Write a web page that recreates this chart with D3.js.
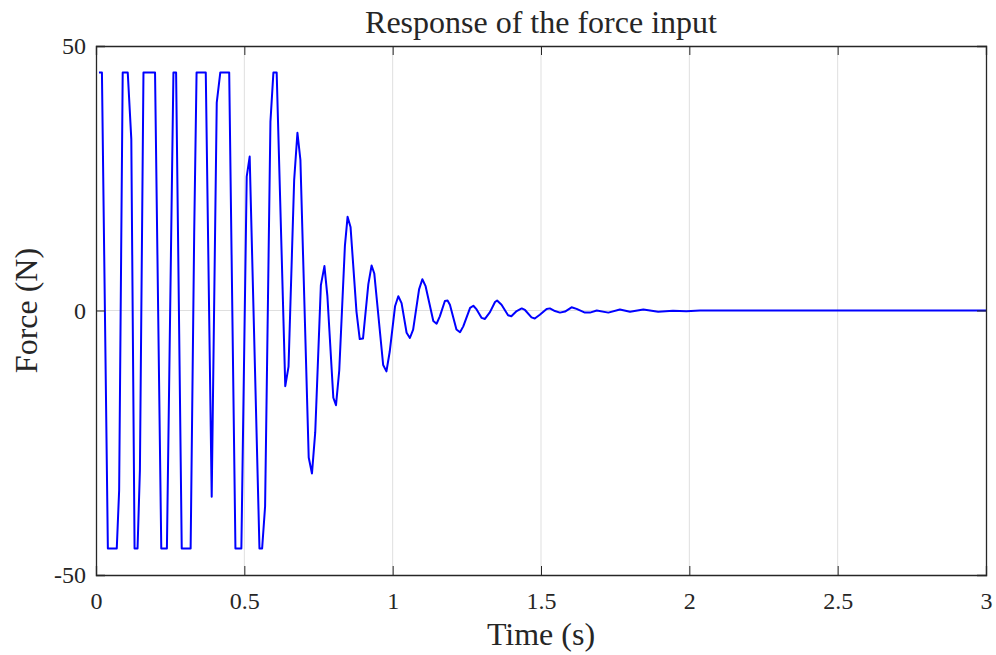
<!DOCTYPE html>
<html>
<head>
<meta charset="utf-8">
<script src="https://cdn.jsdelivr.net/npm/d3@7"></script>
<style>
  body { margin: 0; background: #fff; }
  svg text { font-family: "Liberation Serif", "Times New Roman", serif; fill: #262626; }
</style>
</head>
<body>
<div id="chart"></div>
<script>
const timeS = [
  0.01, 0.02, 0.04, 0.07, 0.078, 0.09, 0.107, 0.119, 0.13, 0.14, 0.148, 0.16, 0.199,
  0.22, 0.239, 0.261, 0.27, 0.289, 0.319, 0.331, 0.339, 0.37, 0.39, 0.407, 0.419,
  0.449, 0.47, 0.49, 0.508, 0.518, 0.551, 0.56, 0.57, 0.588, 0.598, 0.609, 0.638,
  0.649, 0.668, 0.679, 0.689, 0.717, 0.728, 0.739, 0.758, 0.77, 0.78, 0.8, 0.809,
  0.82, 0.839, 0.848, 0.858, 0.878, 0.889, 0.9, 0.918, 0.929, 0.938, 0.968, 0.979,
  0.99, 1.008, 1.019, 1.03, 1.047, 1.058, 1.069, 1.089, 1.1, 1.111, 1.137, 1.148,
  1.159, 1.176, 1.185, 1.193, 1.215, 1.227, 1.238, 1.261, 1.272, 1.283, 1.3, 1.311,
  1.328, 1.345, 1.352, 1.367, 1.389, 1.4, 1.418, 1.435, 1.446, 1.468, 1.479, 1.496,
  1.519, 1.53, 1.547, 1.564, 1.581, 1.603, 1.62, 1.648, 1.665, 1.688, 1.727, 1.766,
  1.8, 1.845, 1.895, 1.945, 1.99, 2.036, 2.5, 3.0
];
const forceN = [
  45, 45, -45, -45, -34, 45, 45, 32.4, -45, -45, -30.2, 45, 45,
  -45, -45, 45, 45, -45, -45, 14.7, 45, 45, -35.2, 39.3, 45,
  45, -45, -45, 25.3, 29.1, -45, -45, -37, 35.7, 45, 45, -14.3,
  -10.6, 24.7, 33.6, 28.5, -27.8, -30.8, -23, 4.8, 8.4, 2.7, -16.5, -17.9,
  -11.3, 12.2, 17.7, 15.8, -0.2, -5.4, -5.3, 5.0, 8.5, 7.0, -10.3, -11.5,
  -7.8, 0.8, 2.7, 1.4, -4.2, -5.2, -3.6, 4.0, 5.9, 4.6, -2.0, -2.5,
  -1.1, 1.8, 1.9, 1.1, -3.6, -4.1, -3.0, 0.5, 0.9, 0.2, -1.4, -1.6,
  -0.3, 1.6, 1.9, 1.1, -0.9, -1.1, -0.1, 0.4, 0.1, -1.3, -1.5, -0.8,
  0.3, 0.4, -0.1, -0.4, -0.2, 0.6, 0.3, -0.4, -0.4, 0, -0.4, 0.2,
  -0.25, 0.2, -0.25, -0.05, -0.15, 0, 0, 0
];
const xTicks = [0, 0.5, 1, 1.5, 2, 2.5, 3];
const yTicks = [-50, 0, 50];
const xTickLabels = ["0", "0.5", "1", "1.5", "2", "2.5", "3"];
const yTickLabels = ["-50", "0", "50"];

const W = 996, H = 655;
const margin = {top: 46, right: 10, bottom: 80, left: 96};
const width = W - margin.left - margin.right;
const height = H - margin.top - margin.bottom;
const axisColor = "#262626";
const tickLen = 9;

const svg = d3.select("#chart").append("svg")
    .attr("width", W)
    .attr("height", H);

const g = svg.append("g")
    .attr("transform", `translate(${margin.left},${margin.top})`);

const x = d3.scaleLinear().domain([0, 3]).range([0, width]);
const y = d3.scaleLinear().domain([-50, 50]).range([height, 0]);

// grid lines
g.append("g").selectAll("line.gx")
    .data(xTicks.slice(1, -1))
    .join("line")
    .attr("x1", d => x(d)).attr("x2", d => x(d))
    .attr("y1", 0).attr("y2", height)
    .attr("stroke", "#dfdfdf").attr("stroke-width", 1);

g.append("g").selectAll("line.gy")
    .data(yTicks.slice(1, -1))
    .join("line")
    .attr("x1", 0).attr("x2", width)
    .attr("y1", d => y(d)).attr("y2", d => y(d))
    .attr("stroke", "#dfdfdf").attr("stroke-width", 1);

// data line
const pts = timeS.map((t, i) => [t, forceN[i]]);
g.append("clipPath").attr("id", "clip")
    .append("rect").attr("width", width).attr("height", height);

g.append("path")
    .datum(pts)
    .attr("clip-path", "url(#clip)")
    .attr("fill", "none")
    .attr("stroke", "#0000ff")
    .attr("stroke-width", 2)
    .attr("stroke-linejoin", "round")
    .attr("d", d3.line().x(d => x(d[0])).y(d => y(d[1])));

// axes (ticks pointing inward)
const xAxis = g.append("g")
    .attr("transform", `translate(0,${height})`)
    .call(d3.axisBottom(x).tickValues(xTicks)
        .tickSize(-tickLen).tickPadding(17)
        .tickFormat((d, i) => xTickLabels[i]));

const yAxis = g.append("g")
    .call(d3.axisLeft(y).tickValues(yTicks)
        .tickSize(-tickLen).tickPadding(10)
        .tickFormat((d, i) => yTickLabels[i]));

const xTop = g.append("g")
    .call(d3.axisTop(x).tickValues(xTicks).tickSize(-tickLen).tickFormat(""));
const yRight = g.append("g")
    .attr("transform", `translate(${width},0)`)
    .call(d3.axisRight(y).tickValues(yTicks).tickSize(-tickLen).tickFormat(""));

[xAxis, yAxis, xTop, yRight].forEach(a => {
    a.select(".domain").attr("stroke", axisColor).attr("stroke-width", 1.3);
    a.selectAll(".tick line").attr("stroke", axisColor).attr("stroke-width", 1);
    a.selectAll(".tick text").attr("fill", axisColor).style("font-size", "24px")
        .style("font-family", "'Liberation Serif', serif");
});

// title and axis labels
svg.append("text")
    .attr("x", margin.left + width / 2)
    .attr("y", 33)
    .attr("text-anchor", "middle")
    .style("font-size", "32px")
    .text("Response of the force input");

svg.append("text")
    .attr("x", margin.left + width / 2)
    .attr("y", 645)
    .attr("text-anchor", "middle")
    .style("font-size", "32px")
    .text("Time (s)");

svg.append("text")
    .attr("transform", `translate(37,${margin.top + height / 2}) rotate(-90)`)
    .attr("text-anchor", "middle")
    .style("font-size", "32px")
    .text("Force (N)");
</script>
</body>
</html>
